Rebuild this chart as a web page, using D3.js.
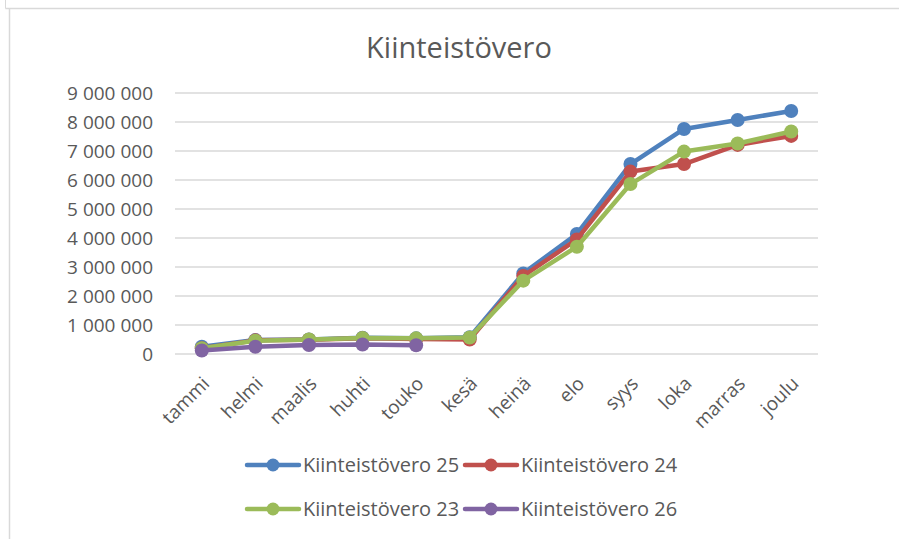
<!DOCTYPE html>
<html>
<head>
<meta charset="utf-8">
<script src="https://cdn.jsdelivr.net/npm/d3@7"></script>
<style>
  body { margin: 0; background: #fff; }
  svg { display: block; font-family: "Open Sans", "Noto Sans", sans-serif; }
</style>
</head>
<body>
<svg id="chart" width="899" height="539"></svg>
<script>
// months
const months = ["tammi", "helmi", "maalis", "huhti", "touko", "kesä", "heinä", "elo", "syys", "loka", "marras", "joulu"]

// values
const vero25 = [250000, 480000, 500000, 560000, 540000, 580000, 2780000, 4140000, 6550000, 7760000, 8070000, 8380000]
const vero24 = [200000, 470000, 490000, 540000, 520000, 500000, 2690000, 3950000, 6290000, 6550000, 7210000, 7520000]
const vero23 = [200000, 460000, 500000, 550000, 540000, 570000, 2530000, 3700000, 5860000, 6980000, 7260000, 7670000]
const vero26 = [120000, 250000, 310000, 330000, 300000]

const yTicks = [0, 1000000, 2000000, 3000000, 4000000, 5000000, 6000000, 7000000, 8000000, 9000000]

const series = [
  { name: "Kiinteistövero 25", values: vero25, color: "#4F81BD" },
  { name: "Kiinteistövero 24", values: vero24, color: "#C0504D" },
  { name: "Kiinteistövero 23", values: vero23, color: "#9BBB59" },
  { name: "Kiinteistövero 26", values: vero26, color: "#8064A2" }
]

const svg = d3.select("#chart")
const textColor = "#595959"

// frame lines
svg.append("line").attr("x1", 5.5).attr("x2", 899).attr("y1", 8.5).attr("y2", 8.5)
  .attr("stroke", "#d9d9d9").attr("stroke-width", 1.5)
svg.append("line").attr("x1", 9.5).attr("x2", 9.5).attr("y1", 8.5).attr("y2", 539)
  .attr("stroke", "#d9d9d9").attr("stroke-width", 1.5)
svg.append("line").attr("x1", 5.5).attr("x2", 5.5).attr("y1", 0).attr("y2", 8.5)
  .attr("stroke", "#d9d9d9").attr("stroke-width", 1)

// title
svg.append("text")
  .attr("x", 459).attr("y", 58)
  .attr("text-anchor", "middle")
  .attr("fill", textColor)
  .style("font-size", "29px")
  .text("Kiinteistövero")

const x = d3.scaleBand().domain(months).range([175, 818])
const y = d3.scaleLinear().domain([0, 9000000]).range([354, 93])

// grid
svg.append("g")
  .selectAll("line")
  .data(yTicks)
  .enter()
  .append("line")
  .attr("x1", 175).attr("x2", 818)
  .attr("y1", (d) => y(d)).attr("y2", (d) => y(d))
  .attr("stroke", "#d9d9d9")
  .attr("stroke-width", 1.3)

// y axis labels
const fmt = (d) => d3.format(",")(d).replace(/,/g, " ")
const yAxis = svg.append("g")
  .attr("transform", "translate(175,0)")
  .call(d3.axisLeft(y).tickValues(yTicks).tickFormat(fmt).tickSize(0).tickPadding(22))
yAxis.select(".domain").remove()
yAxis.selectAll("text")
  .attr("fill", textColor)
  .style("font-size", "19px")
  .style("font-family", "'Open Sans', sans-serif")

// x axis labels
const xAxis = svg.append("g")
  .attr("transform", "translate(0,354)")
  .call(d3.axisBottom(x).tickSize(0))
xAxis.select(".domain").remove()
xAxis.selectAll("text")
  .attr("fill", textColor)
  .style("font-size", "19px")
  .style("font-family", "'Open Sans', sans-serif")
  .attr("text-anchor", "end")
  .attr("dy", "0.35em")
  .attr("transform", "translate(2,24) rotate(-45)")

// lines and markers
const cx = (i) => x(months[i]) + x.bandwidth() / 2
const line = d3.line().x((d, i) => cx(i)).y((d) => y(d))

series.forEach((s) => {
  const g = svg.append("g")
  g.append("path")
    .datum(s.values)
    .attr("d", line)
    .attr("fill", "none")
    .attr("stroke", s.color)
    .attr("stroke-width", 4.5)
    .attr("stroke-linejoin", "round")
  g.selectAll("circle")
    .data(s.values)
    .enter()
    .append("circle")
    .attr("cx", (d, i) => cx(i))
    .attr("cy", (d) => y(d))
    .attr("r", 7)
    .attr("fill", s.color)
})

// legend
const legendPos = [[247, 465], [465, 465], [247, 509], [465, 509]]
series.forEach((s, i) => {
  const [lx, ly] = legendPos[i]
  const g = svg.append("g").attr("transform", `translate(${lx},${ly})`)
  g.append("line").attr("x1", 0).attr("x2", 52).attr("y1", 0).attr("y2", 0)
    .attr("stroke", s.color).attr("stroke-width", 4.5).attr("stroke-linecap", "round")
  g.append("circle").attr("cx", 26).attr("cy", 0).attr("r", 6.5).attr("fill", s.color)
  g.append("text")
    .attr("x", 56).attr("y", 0).attr("dy", "0.35em")
    .attr("fill", textColor)
    .style("font-size", "20px")
    .text(s.name)
})
</script>
</body>
</html>
